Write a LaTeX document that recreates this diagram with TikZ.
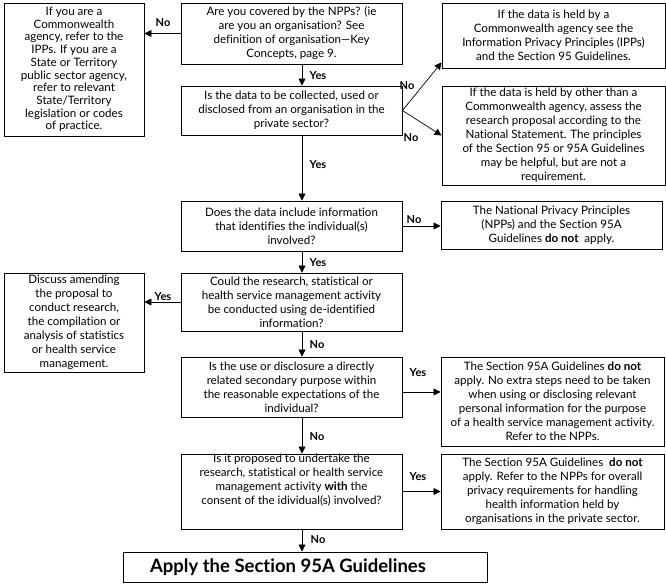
\documentclass[tikz,border=0pt]{standalone}
\usepackage{fontspec}
\setmainfont{Lato}[Ligatures=CommonOff]
\usetikzlibrary{arrows.meta,calc}
\begin{document}
\begin{tikzpicture}[x=1pt,y=-1pt,
  box/.style={draw, line width=0.9pt, align=center, inner sep=0pt, font=\fontsize{11.6}{14}\selectfont},
  arr/.style={draw, line width=0.7pt, -{Triangle[length=7pt,width=7pt]}},
  lab/.style={font=\fontsize{11}{13}\selectfont\bfseries, inner sep=0pt}]
\useasboundingbox (0,0) rectangle (666,585);
\coordinate (col) at (302,0);
\node[box, minimum width=140pt, minimum height=133pt, font=\fontsize{11.6}{12.7}\selectfont] (L1) at (74,69.5) {If you are a\\Commonwealth\\agency, refer to the\\IPPs. If you are a\\State or Territory\\public sector agency,\\refer to relevant\\State/Territory\\legislation or codes\\of practice.};
\node[box, minimum width=221pt, minimum height=61pt] (Q1) at (291.5,33.5) {Are you covered by the NPPs? (ie\\are you an organisation? See\\definition of organisation—Key\\Concepts, page 9.};
\node[box, minimum width=221pt, minimum height=49pt] (Q2) at (291.5,110.5) {Is the data to be collected, used or\\disclosed from an organisation in the\\private sector?};
\node[box, minimum width=223pt, minimum height=65pt] (R1) at (553.5,35.5) {If the data is held by a\\Commonwealth agency see the\\Information Privacy Principles (IPPs)\\and the Section 95 Guidelines.};
\node[box, minimum width=223pt, minimum height=99pt] (R2) at (553.5,135.5) {If the data is held by other than a\\Commonwealth agency, assess the\\research proposal according to the\\National Statement. The principles\\of the Section 95 or 95A Guidelines\\may be helpful, but are not a\\requirement.};
\node[box, minimum width=221pt, minimum height=50pt] (Q3) at (291.5,226) {Does the data include information\\that identifies the individual(s)\\involved?};
\node[box, minimum width=221pt, minimum height=48pt] (R3) at (551.5,225) {The National Privacy Principles\\(NPPs) and the Section 95A\\Guidelines \textbf{do not}\ \ apply.};
\node[box, minimum width=221pt, minimum height=58pt] (Q4) at (291.5,302) {Could the research, statistical or\\health service management activity\\be conducted using de-identified\\information?};
\node[box, minimum width=140pt, minimum height=99pt] (L2) at (74,322.5) {Discuss amending\\the proposal to\\conduct research,\\the compilation or\\analysis of statistics\\or health service\\management.};
\node[box, minimum width=221pt, minimum height=60pt] (Q5) at (291.5,387) {Is the use or disclosure a directly\\related secondary purpose within\\the reasonable expectations of the\\individual?};
\node[box, minimum width=223pt, minimum height=89pt] (R5) at (552.5,401.5) {The Section 95A Guidelines \textbf{do not}\\apply. No extra steps need to be taken\\when using or disclosing relevant\\personal information for the purpose\\of a health service management activity.\\Refer to the NPPs.};
\node[box, minimum width=221pt, minimum height=75pt] (Q6) at (291.5,491.5) {Is it proposed to undertake the\\research, statistical or health service\\management activity \textbf{with}\ the\\consent of the idividual(s) involved?\\[10pt]};
\node[box, minimum width=223pt, minimum height=75pt] (R6) at (552.5,491.5) {The Section 95A Guidelines\ \ \textbf{do not}\\apply. Refer to the NPPs for overall\\privacy requirements for handling\\health information held by\\organisations in the private sector.};
\node[box, minimum width=364pt, minimum height=30pt, font=\fontsize{18.5}{20}\selectfont\bfseries] (F) at (305,567) {Apply the Section 95A Guidelines\hspace*{34pt}};
% connectors
\draw[arr] (Q1.west) -- (Q1.west -| L1.east);
\draw[arr] (Q1.south -| col) -- (Q2.north -| col);
\draw[arr] (Q2.east) -- ($(R1.south west)+(0,-6)$);
\draw[arr] (Q2.east) -- (R2.west);
\draw[arr] (Q2.south -| col) -- (Q3.north -| col);
\draw[arr] (Q3.east) -- (Q3.east -| R3.west);
\draw[arr] (Q3.south -| col) -- (Q4.north -| col);
\draw[arr] (Q4.west) -- (Q4.west -| L2.east);
\draw[arr] (Q4.south -| col) -- (Q5.north -| col);
\draw[arr] ($(Q5.east)+(0,5)$) -- ($(Q5.east -| R5.west)+(0,5)$);
\draw[arr] (Q5.south -| col) -- (Q6.north -| col);
\draw[arr] (Q6.east) -- (Q6.east -| R6.west);
\draw[arr] (Q6.south -| col) -- (F.north -| col);
% labels
\node[lab] (n1) at (163,23) {No};
\node[lab] (y1) at (318,76) {Yes};
\node[lab] (n2) at (407,86) {No};
\node[lab] (n3) at (411,138) {No};
\node[lab] (y2) at (318,165) {Yes};
\node[lab] (n4) at (414,220) {No};
\node[lab] (y3) at (318,263) {Yes};
\node[lab] (y4) at (163,297) {Yes};
\node[lab] (n5) at (317,345) {No};
\node[lab] (y5) at (418,373) {Yes};
\node[lab] (n6) at (317,437) {No};
\node[lab] (y6) at (418,477) {Yes};
\node[lab] (n7) at (318,540) {No};
\end{tikzpicture}
\end{document}
